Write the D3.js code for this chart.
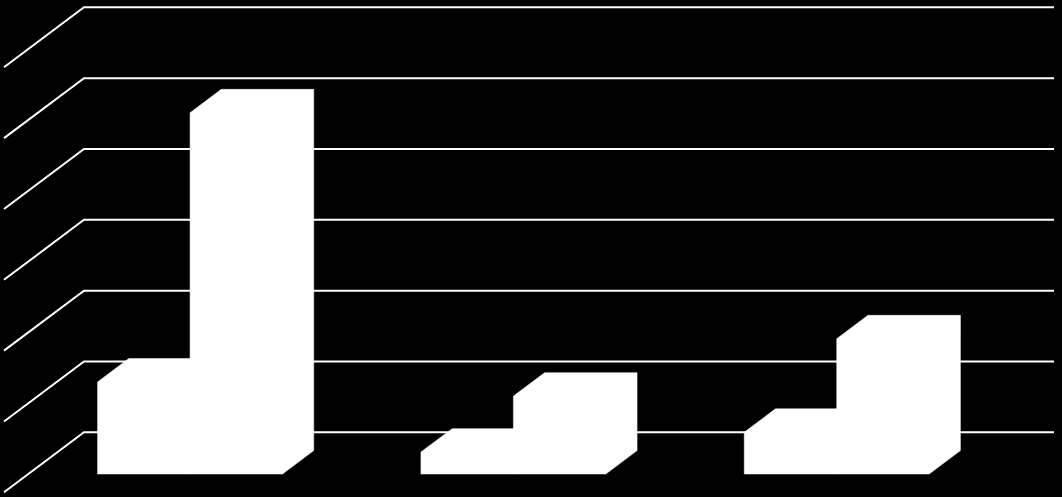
<!DOCTYPE html>
<html>
<head>
<meta charset="utf-8">
<script src="https://cdn.jsdelivr.net/npm/d3@7"></script>
<style>
  html, body { margin: 0; padding: 0; background: #000; overflow: hidden; }
  svg { display: block; }
</style>
</head>
<body>
<svg id="barChart"></svg>
<script>
// The reference shows no labels, so the names below are only keys
const categories = ["Category 1", "Category 2", "Category 3"];
const seriesNames = ["Series 1", "Series 2"];
const series1 = [1.3, 0.31, 0.59];
const series2 = [5.1, 1.1, 1.91];
const yTicks = [0, 1, 2, 3, 4, 5, 6];

document.addEventListener("DOMContentLoaded", () => {
  const width = 1062;
  const height = 497;

  // back wall of the 3D box, and how far the floor comes forward
  const wall = { left: 84, right: 1054, top: 7.3, bottom: 432.3 };
  const depth = { dx: -80, dy: 60 };
  const barFront = 0.695;
  const barBack = 0.305;

  const svg = d3.select("#barChart")
    .attr("width", width)
    .attr("height", height);

  const xScale = d3.scaleBand()
    .domain(categories)
    .range([wall.left, wall.right])
    .paddingInner(0.428)
    .paddingOuter(0.214);

  const xSeries = d3.scaleBand()
    .domain(seriesNames)
    .range([0, xScale.bandwidth()]);

  const yScale = d3.scaleLinear()
    .domain([0, d3.max(yTicks)])
    .range([wall.bottom, wall.top]);

  // wall coordinates + depth (0 = back, 1 = front) to screen
  const project = (x, value, d) => [x + depth.dx * d, yScale(value) + depth.dy * d];
  const line = d3.line();

  // Gridlines: across the back wall, then down the side wall
  svg.append("g")
    .selectAll("path")
    .data(yTicks)
    .enter()
    .append("path")
    .attr("fill", "none")
    .attr("stroke", "#fff")
    .attr("stroke-width", 2)
    .attr("d", (d) => line([
      project(wall.left, d, 1),
      project(wall.left, d, 0),
      project(wall.right, d, 0)
    ]));

  const bars = [];
  categories.forEach((c, i) => {
    bars.push({ x: xScale(c) + xSeries(seriesNames[0]), value: series1[i] });
    bars.push({ x: xScale(c) + xSeries(seriesNames[1]), value: series2[i] });
  });

  const w = xSeries.bandwidth();

  // One outline per bar: every face is white, so separate faces would only show seams
  svg.append("g")
    .selectAll("path")
    .data(bars)
    .enter()
    .append("path")
    .attr("fill", "#fff")
    .attr("stroke", "#fff")
    .attr("stroke-width", 0.5)
    .attr("d", (d) => line([
      project(d.x, 0, barFront),
      project(d.x, d.value, barFront),
      project(d.x, d.value, barBack),
      project(d.x + w, d.value, barBack),
      project(d.x + w, 0, barBack),
      project(d.x + w, 0, barFront)
    ]) + "Z");
});
</script>
</body>
</html>
